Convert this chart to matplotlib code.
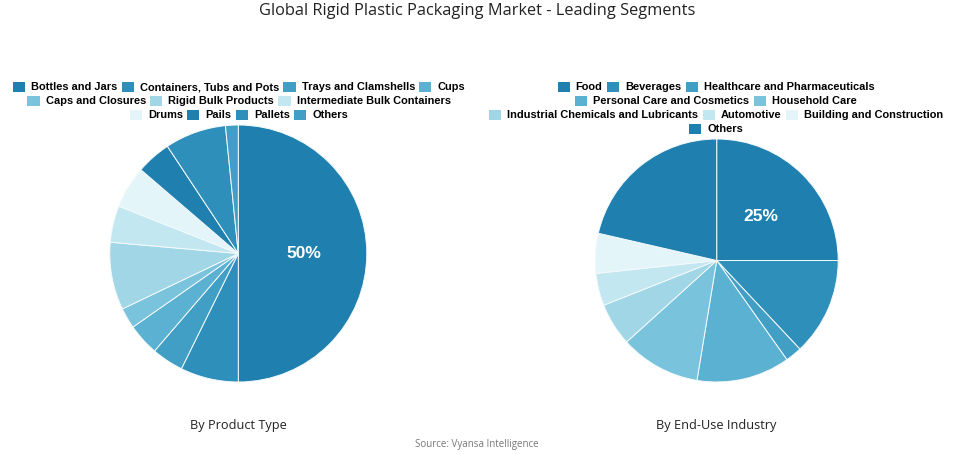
import matplotlib
matplotlib.use("Agg")
import matplotlib.pyplot as plt
from matplotlib.patches import Patch
from matplotlib import font_manager

# ---- data ----
product_labels = ["Bottles and Jars", "Containers, Tubs and Pots", "Trays and Clamshells", "Cups",
                  "Caps and Closures", "Rigid Bulk Products", "Intermediate Bulk Containers",
                  "Drums", "Pails", "Pallets", "Others"]
product_values = [50, 7.3, 4.0, 4.0, 2.6, 8.5, 4.6, 5.3, 4.4, 7.7, 1.6]

industry_labels = ["Food", "Beverages", "Healthcare and Pharmaceuticals", "Personal Care and Cosmetics",
                   "Household Care", "Industrial Chemicals and Lubricants", "Automotive",
                   "Building and Construction", "Others"]
industry_values = [25, 13.0, 2.2, 12.4, 10.7, 5.7, 4.3, 5.3, 21.4]

palette = ['#1f80b0', '#2f8fbb', '#419fc6', '#5bb1d1', '#79c3dc', '#a0d6e6', '#c3e7f0', '#e3f5f9']

product_colors = [palette[i % len(palette)] for i in range(len(product_labels))]
industry_colors = [palette[i % len(palette)] for i in range(len(industry_labels))]

# find a regular-width Liberation Sans Bold file
bold_path = None
for f in font_manager.findSystemFonts():
    name = f.split('/')[-1]
    if name == 'LiberationSans-Bold.ttf':
        bold_path = f
        break


def legend_prop(size):
    if bold_path:
        return font_manager.FontProperties(fname=bold_path, size=size)
    return font_manager.FontProperties(family='DejaVu Sans', weight='bold', size=size)


W, H = 955, 454
fig = plt.figure(figsize=(W / 100, H / 100), dpi=100)
fig.patch.set_facecolor('white')


def px_axes(cx, cy, r):
    return fig.add_axes([(cx - r) / W, (H - cy - r) / H, 2 * r / W, 2 * r / H])


def draw_pie(ax, values, colors):
    wedges, texts, autotexts = ax.pie(
        values, colors=colors, startangle=90, counterclock=False, radius=1,
        wedgeprops=dict(edgecolor='#f4fafc', linewidth=0.7),
        autopct=lambda p: f'{p:.0f}%' if p >= 24.5 else '', pctdistance=0.51)
    for t in autotexts:
        t.set_fontproperties(legend_prop(12.5))
        t.set_color('white')
    ax.set_xlim(-1, 1)
    ax.set_ylim(-1, 1)
    ax.set_aspect('equal')
    ax.axis('off')


ax1 = px_axes(238.3, 253.5, 128.5)
draw_pie(ax1, product_values, product_colors)
ax2 = px_axes(716.7, 260.5, 121.5)
draw_pie(ax2, industry_values, industry_colors)


def legend_rows(labels, colors, rows, cx, ys):
    idx = 0
    for n, y in zip(rows, ys):
        hs = [Patch(facecolor=colors[i], edgecolor='none') for i in range(idx, idx + n)]
        ls = labels[idx:idx + n]
        fig.legend(hs, ls, loc='center', bbox_to_anchor=(cx / W, 1 - y / H), ncol=n, frameon=False,
                   prop=legend_prop(7.9), handlelength=1.1, handleheight=1.1, handletextpad=0.55,
                   columnspacing=0.4, borderaxespad=0, borderpad=0)
        idx += n


legend_rows(product_labels, product_colors, [4, 3, 4], 239, [87, 101, 115])
legend_rows(industry_labels, industry_colors, [3, 2, 3, 1], 716, [87, 101, 115, 129])

fig.text(0.5, 1 - 11 / H, "Global Rigid Plastic Packaging Market - Leading Segments",
         ha='center', va='center', fontsize=11.8, family='Open Sans', color='#222222')
fig.text(238 / W, 1 - 425 / H, "By Product Type", ha='center', va='center',
         fontsize=9.2, family='Open Sans', color='#222222')
fig.text(716 / W, 1 - 425 / H, "By End-Use Industry", ha='center', va='center',
         fontsize=9.2, family='Open Sans', color='#222222')
fig.text(477 / W, 1 - 444 / H, "Source: Vyansa Intelligence", ha='center', va='center',
         fontsize=7, family='Open Sans', color='#777777')

fig.savefig("out.png", dpi=100, facecolor='white')
